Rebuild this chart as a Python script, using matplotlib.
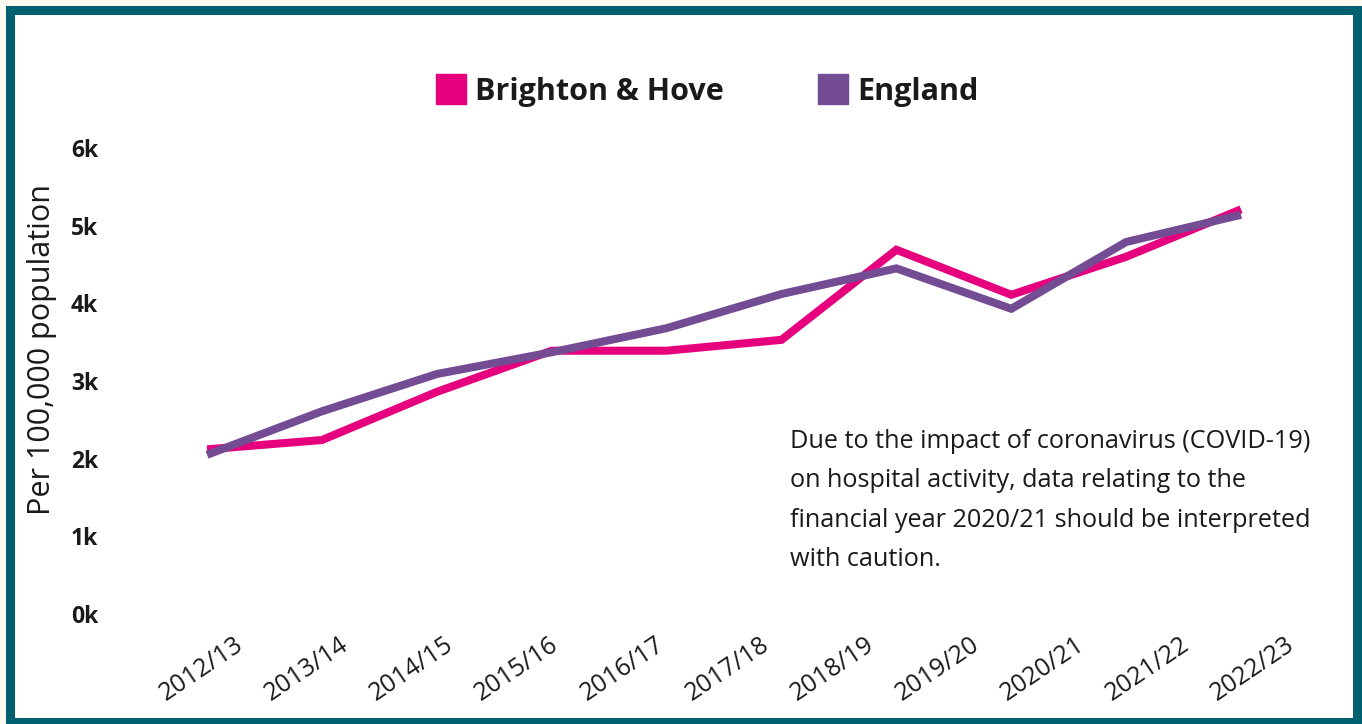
import matplotlib
matplotlib.use("Agg")
import numpy as np
import matplotlib.pyplot as plt
from matplotlib.lines import Line2D
from matplotlib.patches import Rectangle

plt.rcParams['font.family'] = ['Open Sans', 'DejaVu Sans']

# Admissions per 100,000 population
years = ['2012/13', '2013/14', '2014/15', '2015/16', '2016/17', '2017/18',
         '2018/19', '2019/20', '2020/21', '2021/22', '2022/23']
brighton = [2120, 2240, 2860, 3390, 3390, 3530, 4690, 4110, 4600, 5210]
england = [2050, 2610, 3090, 3370, 3680, 4120, 4450, 3930, 4790, 5140]
yticks = [0, 1000, 2000, 3000, 4000, 5000, 6000]
ytick_labels = ['0k', '1k', '2k', '3k', '4k', '5k', '6k']

PINK = '#e6007e'
PURPLE = '#744c94'
TEAL = '#00606f'

W, H = 1362, 724
fig = plt.figure(figsize=(W / 100, H / 100), dpi=100, facecolor='#fffbf0')

# teal frame round the panel, kept behind the axes
frame = Rectangle((10 / W, 2 / H), 1346.5 / W, 712 / H, transform=fig.transFigure,
                  facecolor='white', edgecolor=TEAL, lw=6.5, zorder=-1)
fig.patches.append(frame)

ax = fig.add_axes([149.6 / W, 110 / H, 1171.9 / W, 466 / H])
ax.set_facecolor('none')
for s in ax.spines.values():
    s.set_visible(False)

x = np.arange(len(brighton))
ax.plot(x, brighton, color=PINK, lw=5.8, solid_joinstyle='miter', solid_capstyle='butt')
ax.plot(x, england, color=PURPLE, lw=5.8, solid_joinstyle='miter', solid_capstyle='butt')

ax.set_xlim(-0.5, 9.7)
ax.set_ylim(0, 6000)

# year labels sit on their own spacing along the bottom
tick_pos = 0.235 + 0.9148 * np.arange(len(years))
ax.set_xticks(tick_pos)
ax.set_xticklabels(years, rotation=34, ha='right', va='top', rotation_mode='anchor',
                   fontsize=18, color='#1a1a1a')
ax.tick_params(axis='x', length=0, pad=13)

ax.set_yticks(yticks)
ax.set_yticklabels(ytick_labels, fontsize=16.5, fontweight='bold', color='#1a1a1a')
ax.tick_params(axis='y', length=0, pad=37)

ax.set_ylabel('Per 100,000 population', fontsize=22, color='#1a1a1a')
ax.yaxis.set_label_coords(-0.079, 0.567)

handles = [Line2D([], [], marker='s', ls='', color=PINK, markersize=21.6),
           Line2D([], [], marker='s', ls='', color=PURPLE, markersize=21.6)]
fig.legend(handles, ['Brighton & Hove', 'England'], loc='center',
           bbox_to_anchor=(707 / W, 1 - 92 / H), ncol=2, frameon=False,
           prop={'weight': 'bold', 'size': 22}, handletextpad=0.3,
           columnspacing=3.05, handlelength=1.0, labelcolor='#1a1a1a')

fig.text(790 / W, 1 - 429 / H,
         'Due to the impact of coronavirus (COVID-19)\n'
         'on hospital activity, data relating to the\n'
         'financial year 2020/21 should be interpreted\n'
         'with caution.',
         ha='left', va='top', fontsize=18.2, linespacing=1.76, color='#1a1a1a')

fig.savefig('out.png', dpi=100, facecolor=fig.get_facecolor())
